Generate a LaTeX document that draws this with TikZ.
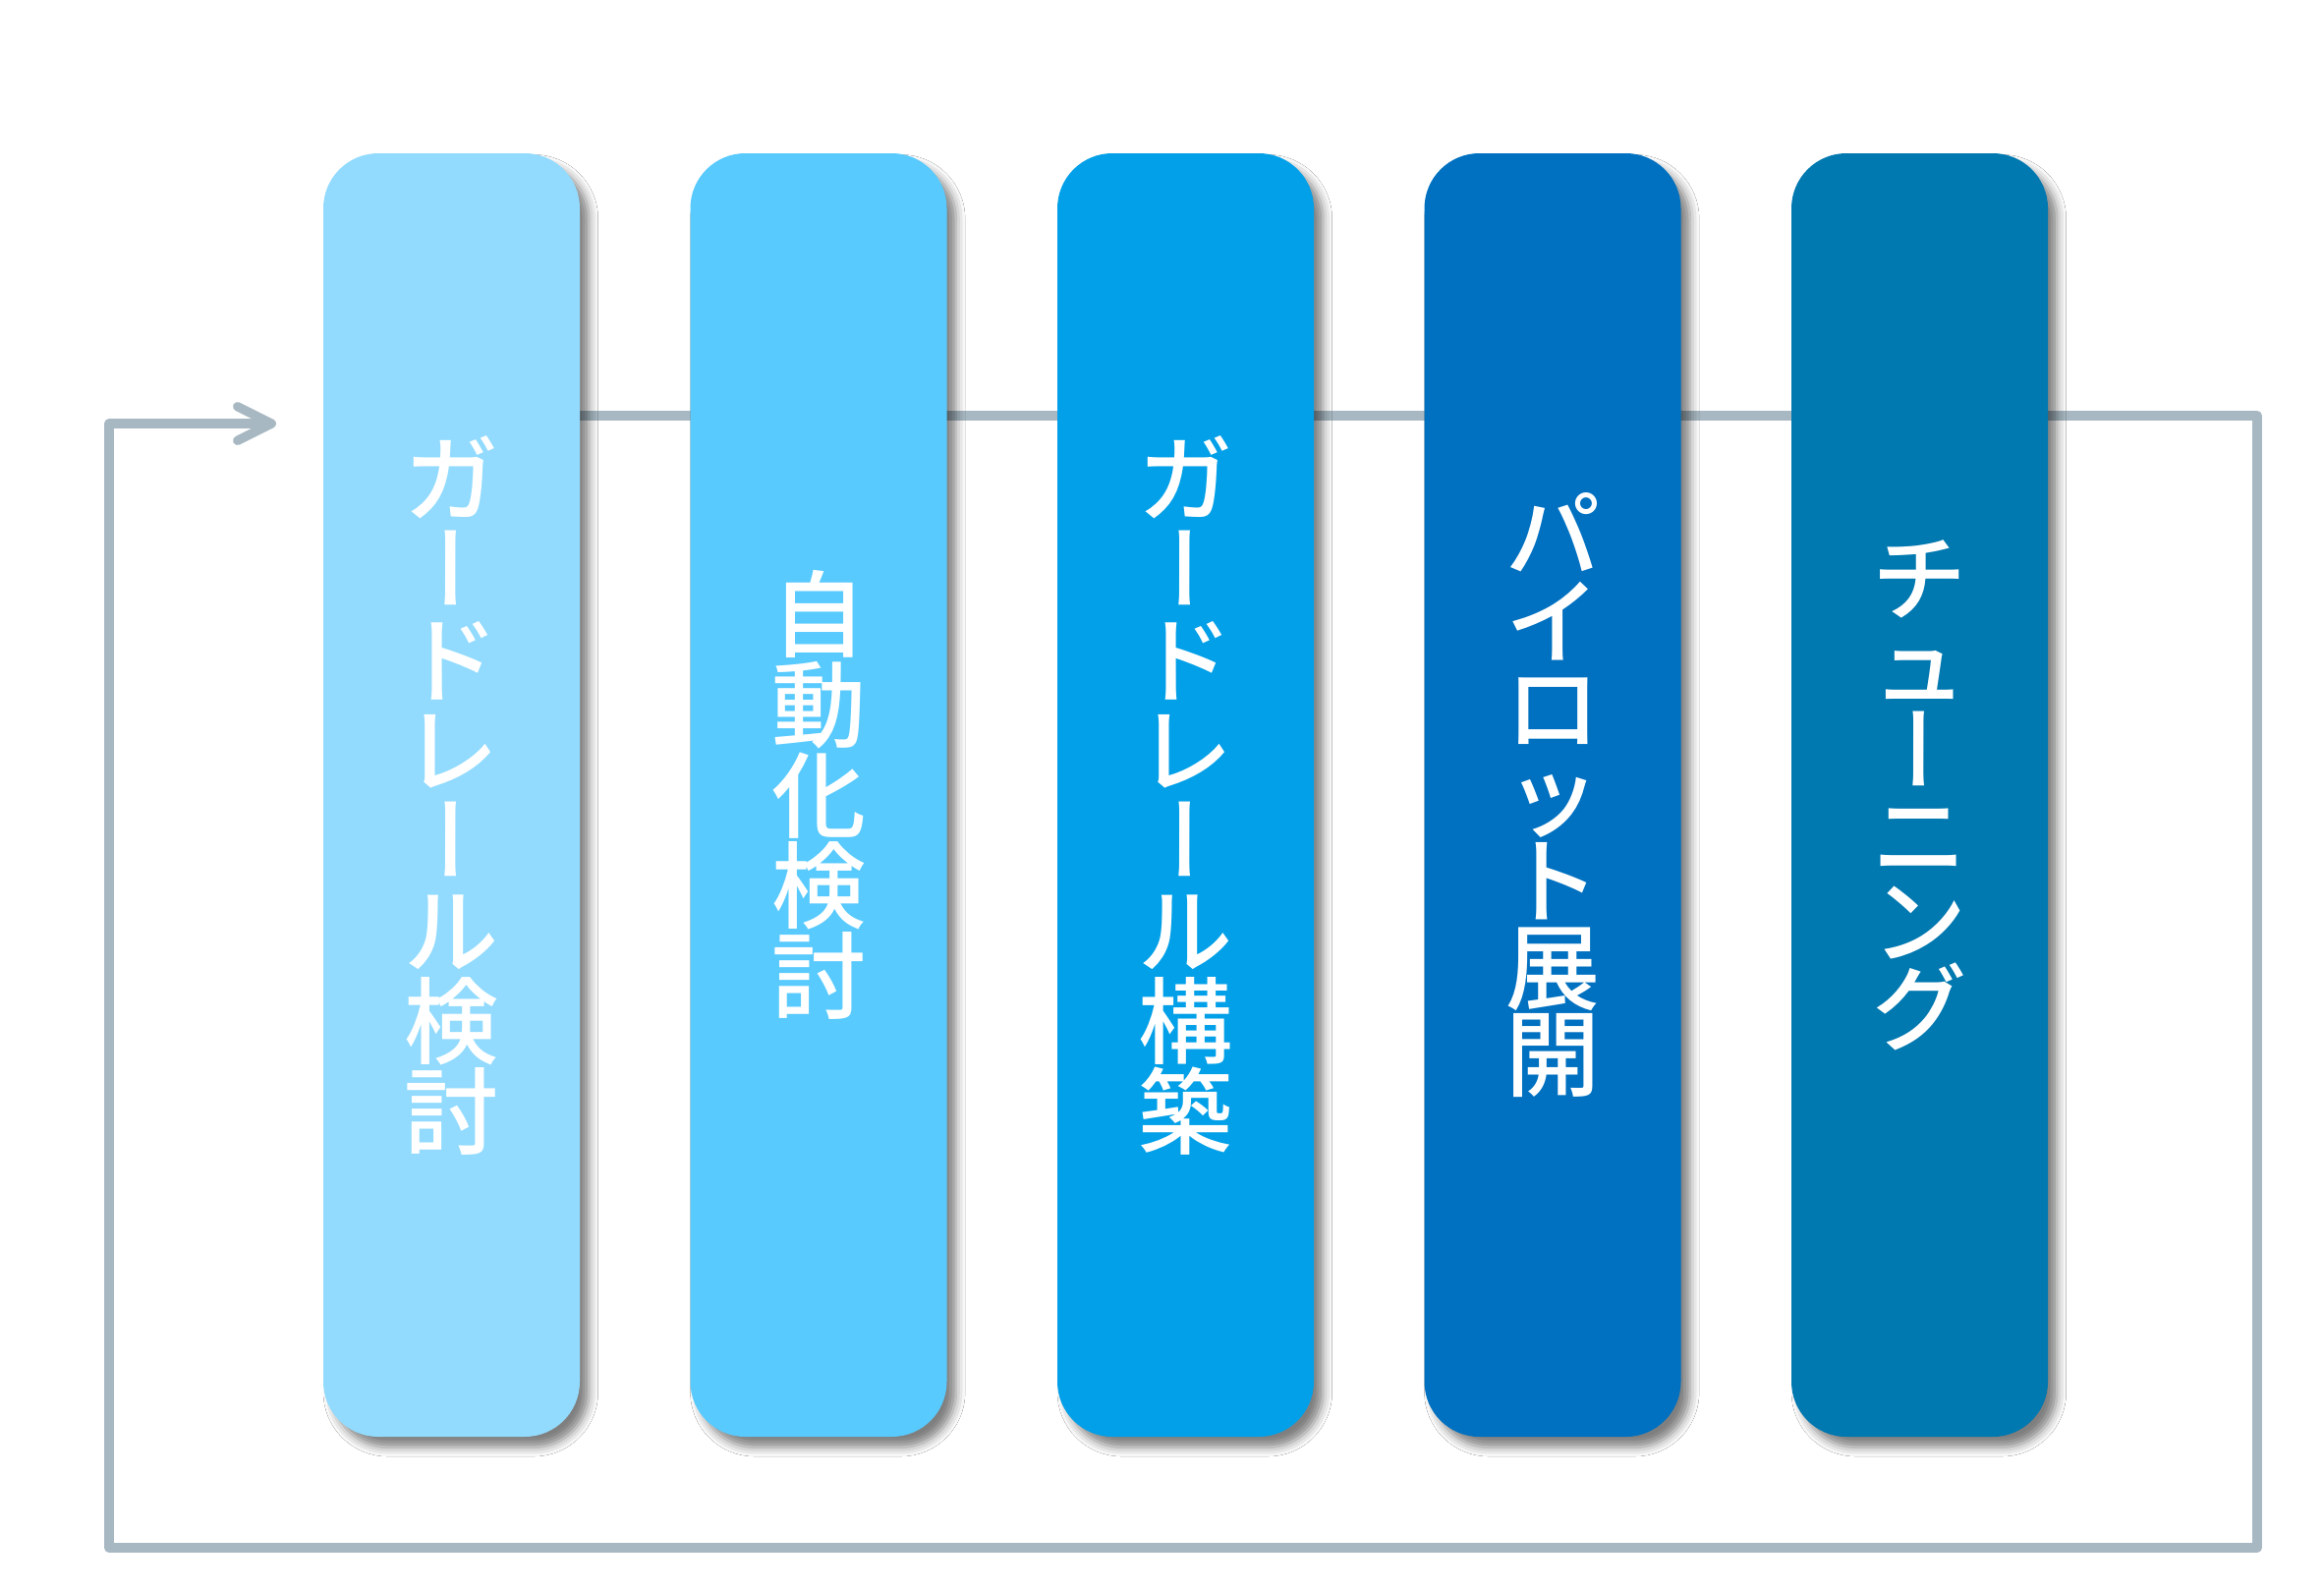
\documentclass[tikz,border=0pt]{standalone}
\usepackage{fontspec}
\newfontfamily\jpfont{Noto Sans CJK JP}[UprightFont=* Medium]
\newfontfamily\jptate{Noto Sans CJK JP}[UprightFont=* Medium, RawFeature=+vert]
\newcommand{\tbar}{{\jptate ー}}
\usetikzlibrary{arrows.meta,shadows.blur,backgrounds}
\definecolor{stageA}{RGB}{146,219,254}
\definecolor{stageB}{RGB}{88,202,254}
\definecolor{stageC}{RGB}{2,160,232}
\definecolor{stageD}{RGB}{0,113,193}
\definecolor{stageE}{RGB}{0,120,176}
\definecolor{loopgrey}{RGB}{168,184,194}
\tikzset{
  stage/.style={rounded corners=42pt, minimum width=195.75pt, minimum height=979.5pt,
    inner sep=0pt, align=center, text=white, font=\jpfont\fontsize{72}{69}\selectfont,
    blur shadow={shadow xshift=7pt, shadow yshift=-8pt, shadow blur radius=7pt, shadow opacity=50}},
  flow/.style={draw=loopgrey, line width=7pt, line join=round},
}

\begin{document}
\begin{tikzpicture}[x=0.75pt,y=0.75pt,yscale=-1,xscale=1]
\useasboundingbox (0,0) rectangle (2365,1618);

% Stages
\node [stage, fill=stageA] (s1) at (459.5,809) {ガ\\\tbar\\ド\\レ\\\tbar\\ル\\検\\討};
\node [stage, fill=stageB] (s2) at (833,809) {自\\動\\化\\検\\討};
\node [stage, fill=stageC] (s3) at (1206.5,809) {ガ\\\tbar\\ド\\レ\\\tbar\\ル\\構\\築};
\node [stage, fill=stageD, font=\jpfont\fontsize{72}{66}\selectfont] (s4) at (1580,809) {パ\\イ\\ロ\\ッ\\ト\\展\\開};
\node [stage, fill=stageE, font=\jpfont\fontsize{72}{65.5}\selectfont] (s5) at (1953.5,809) {チ\\ュ\\\tbar\\ニ\\ン\\グ};

% Loop back
\coordinate (ne) at (2297,423);
\coordinate (se) at (2297,1575);
\coordinate (sw) at (111,1575);
\coordinate (nw) at (111,431);
\coordinate (tip) at (281,431);
\begin{scope}[on background layer]
\fill [white] (0,0) rectangle (2365,1618);
\draw [flow, -{Straight Barb[length=26pt,width=26pt,round]}] (s1.east |- ne) -- (ne) -- (se) -- (sw) -- (nw) -- (tip);
\end{scope}

\end{tikzpicture}
\end{document}
